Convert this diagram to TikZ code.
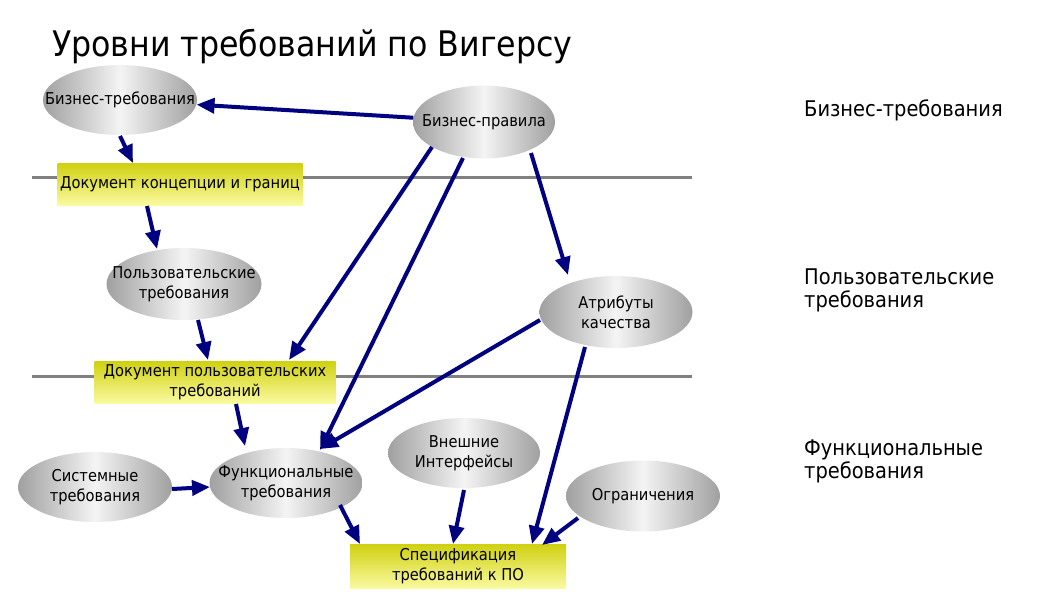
\documentclass[tikz,border=0pt]{standalone}
\usepackage{fontspec}
\setmainfont{DejaVu Sans Condensed}
\usetikzlibrary{shapes.geometric,arrows.meta,calc}
\definecolor{navyc}{RGB}{0,0,128}
\definecolor{linegray}{RGB}{128,128,128}
\definecolor{yelT}{RGB}{208,208,16}
\definecolor{yelB}{RGB}{250,250,160}
\definecolor{ellO}{RGB}{160,160,160}
\definecolor{ellM}{RGB}{244,244,244}
\begin{document}
\begin{tikzpicture}[x=1pt,y=-1pt,
  ell/.style={ellipse, draw=none, inner sep=0pt, left color=ellO, right color=ellO, middle color=ellM},
  etext/.style={font=\fontsize{16.3}{20}\selectfont, align=center, inner sep=0pt},
  docbox/.style={rectangle, draw=none, inner sep=0pt, top color=yelT, bottom color=yelB,
    font=\fontsize{16.3}{20}\selectfont, align=center},
  arr/.style={draw=navyc, line width=4pt, -{Triangle[length=18pt,width=15pt]}},
  sepline/.style={draw=linegray, line width=3pt},
  side/.style={font=\fontsize{21.6}{23}\selectfont, align=left, anchor=west, inner sep=0pt}
]
\useasboundingbox[fill=white] (0,0) rectangle (1058,595);

% separator lines
\coordinate (l1a) at (32,177);
\coordinate (l1b) at (692,177);
\coordinate (l2a) at (32,376);
\coordinate (l2b) at (692,376);
\draw[sepline] (l1a) -- (l1b);
\draw[sepline] (l2a) -- (l2b);

% title
\node[anchor=west, inner sep=0pt, font=\fontsize{35.2}{40}\selectfont] (title) at (52,46) {Уровни требований по Вигерсу};

% side labels
\node[side] (s1) at (804,110) {Бизнес-требования};
\node[side] (s2) at (804,290) {Пользовательские\\требования};
\node[side] (s3) at (804,461) {Функциональные\\требования};

% ellipses
\node[ell, minimum width=154pt, minimum height=70pt] (bt) at (120,100) {};
\node[etext] (btt) at (bt) {Бизнес-требования};
\node[ell, minimum width=142pt, minimum height=73pt] (bp) at (484,122) {};
\node[etext] (bpt) at (bp) {Бизнес-правила};
\node[ell, minimum width=155pt, minimum height=72pt] (pol) at (184,284) {};
\node[etext] (polt) at (pol) {Пользовательские\\требования};
\node[ell, minimum width=153pt, minimum height=72pt] (atr) at (616,312) {};
\node[etext] (atrt) at (atr) {Атрибуты\\качества};
\node[ell, minimum width=154pt, minimum height=70pt] (sys) at (95,487) {};
\node[etext] (syst) at (sys) {Системные\\требования};
\node[ell, minimum width=153pt, minimum height=70pt] (fun) at (286,483) {};
\node[etext] (funt) at (fun) {Функциональные\\требования};
\node[ell, minimum width=152pt, minimum height=70pt] (vn) at (464,453) {};
\node[etext] (vnt) at (vn) {Внешние\\Интерфейсы};
\node[ell, minimum width=154pt, minimum height=71pt] (ogr) at (643,496) {};
\node[etext] (ogrt) at (ogr) {Ограничения};

% documents
\node[docbox, minimum width=245pt, minimum height=42pt] (d1) at (180,184) {Документ концепции и границ};
\node[docbox, minimum width=241pt, minimum height=42pt] (d2) at (215,382) {Документ пользовательских\\требований};
\node[docbox, minimum width=216pt, minimum height=44pt] (sp) at (458,566) {Спецификация\\требований к ПО};

% arrows
\draw[arr] (bp) -- (bt);
\draw[arr] ($(bt)+(0,36)$) -- ($(d1)+(-47,-21)$);
\draw[arr] ($(d1)+(-33,22)$) -- ($(pol)+(-27,-35)$);
\draw[arr] ($(bp)+(-52,25)$) -- ($(d2)+(74,-22)$);
\draw[arr] ($(bp)+(-21,36)$) -- ($(fun)+(34,-33)$);
\draw[arr] ($(bp)+(47,31)$) -- ($(atr)+(-48,-37)$);
\draw[arr] ($(pol)+(14,36)$) -- ($(d2)+(-7,-22)$);
\draw[arr] ($(d2)+(21,22)$) -- ($(fun)+(-41,-37)$);
\draw[arr] ($(atr)+(-76,8)$) -- ($(fun)+(34,-34)$);
\draw[arr] ($(atr)+(-31,35)$) -- ($(sp)+(74,-22)$);
\draw[arr] ($(sys)+(77,2)$) -- ($(fun)+(-76,4)$);
\draw[arr] ($(fun)+(54,22)$) -- ($(sp)+(-98,-22)$);
\draw[arr] ($(vn)+(0,37)$) -- ($(sp)+(-5,-22)$);
\draw[arr] ($(ogr)+(-65,22)$) -- ($(sp)+(84,-21)$);
\end{tikzpicture}
\end{document}
